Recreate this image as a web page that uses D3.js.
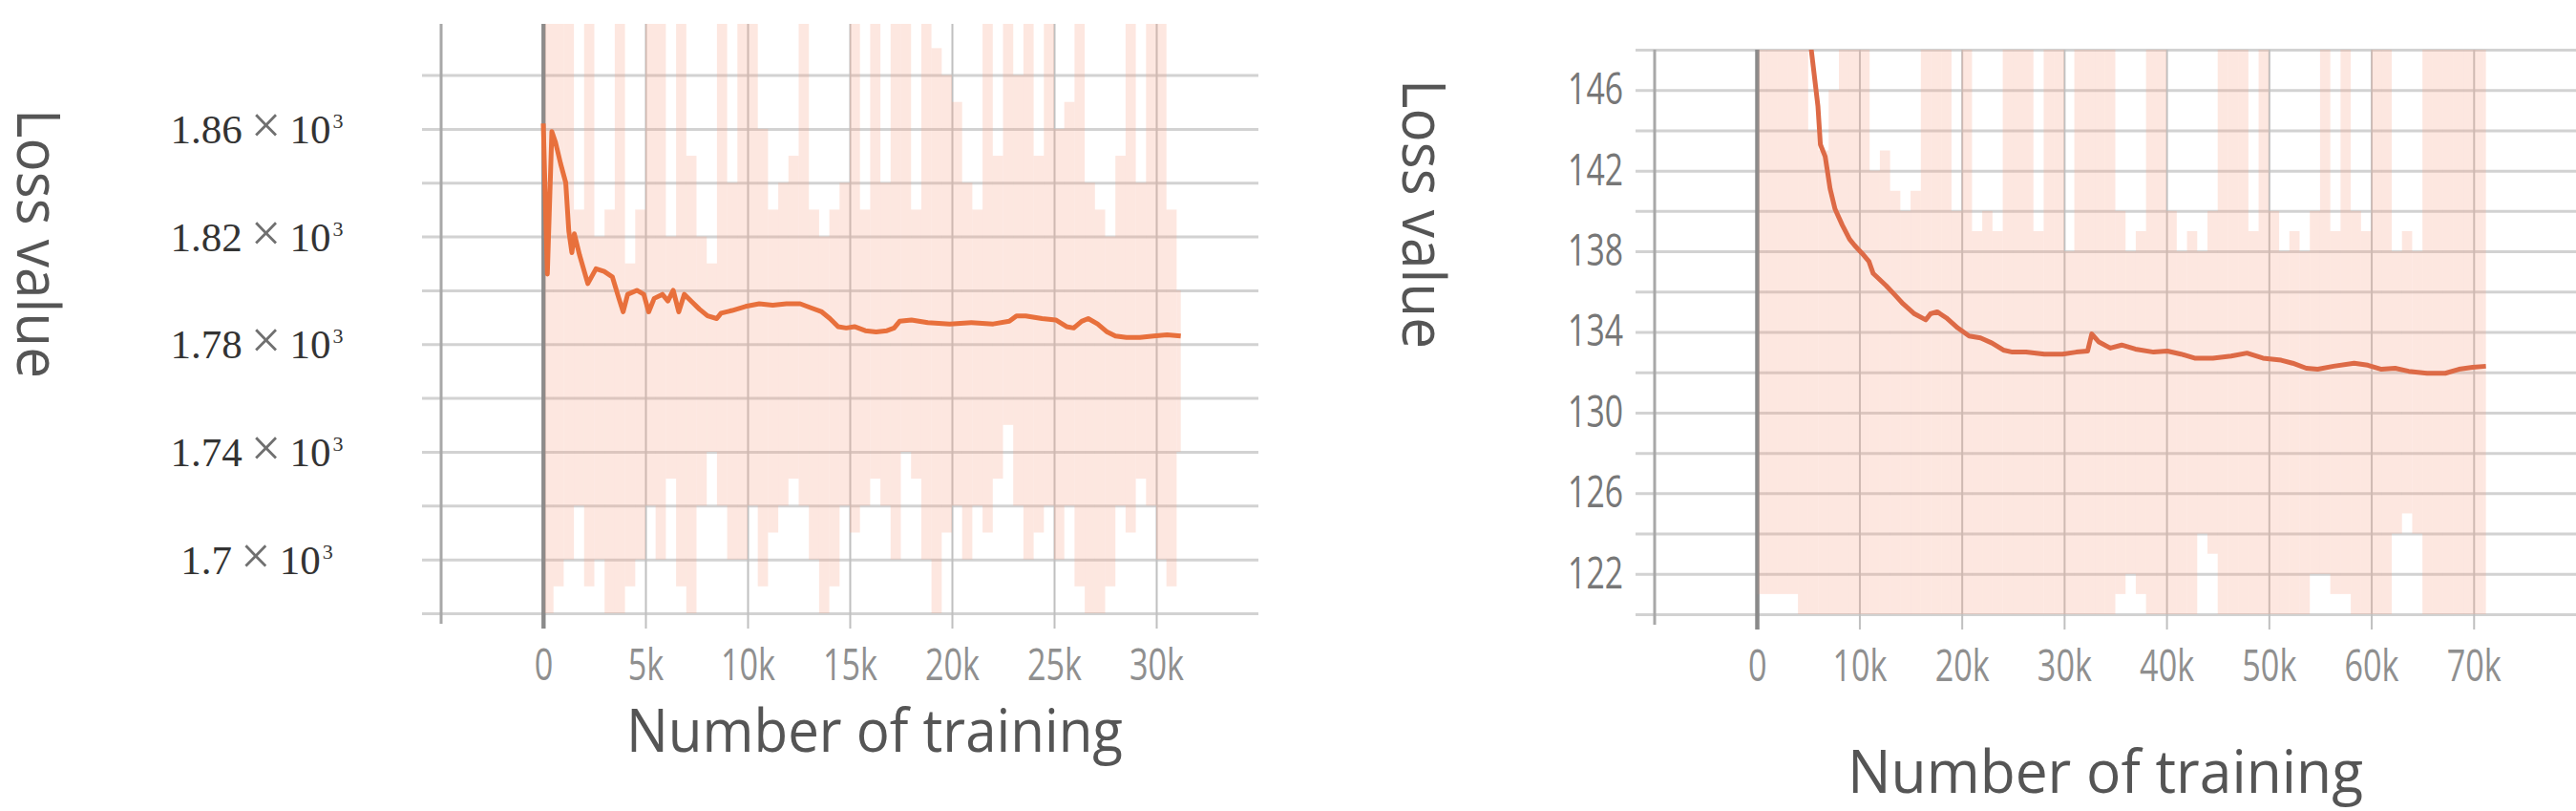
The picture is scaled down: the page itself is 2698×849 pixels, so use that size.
<!DOCTYPE html>
<html>
<head>
<meta charset="utf-8">
<script src="https://cdn.jsdelivr.net/npm/d3@7"></script>
<style>
  body { margin: 0; background: #fff; }
  svg { display: block; }
</style>
</head>
<body>
<div id="chart"></div>
<script>
// ---- Left run: smoothed loss (step, value) ----
var leftSteps = [0, 200, 420, 600, 850, 1100, 1250, 1400, 1520, 1780, 2180, 2580, 2980, 3380, 3700, 3910,
  4130, 4580, 4920, 5160, 5430, 5830, 6100, 6360, 6630, 6900, 7240, 7640, 8040, 8490, 8700, 9240,
  9900, 10570, 11230, 11900, 12570, 13100, 13630, 14030, 14430, 14830, 15230, 15760, 16290, 16820,
  17170, 17440, 18020, 18820, 19890, 20950, 22020, 22810, 23160, 23610, 24410, 25080, 25610, 25960,
  26350, 26670, 27130, 27600, 28000, 28540, 29200, 29870, 30530, 31200];
var leftLoss = [1862, 1806, 1859, 1855, 1847, 1840, 1822, 1814, 1821, 1813, 1802.5, 1808, 1807, 1805, 1797, 1792,
  1798.5, 1800, 1798.5, 1792, 1797, 1798.5, 1796, 1800, 1792, 1798.5, 1796, 1793, 1790.5, 1789.5, 1791.5, 1792.5,
  1794, 1795, 1794.5, 1795, 1795, 1793.5, 1792, 1789.5, 1786.5, 1786, 1786.5, 1785, 1784.5, 1785,
  1786, 1788.5, 1789, 1788, 1787.5, 1788, 1787.5, 1788.5, 1790.5, 1790.5, 1789.5, 1789, 1786.5, 1786,
  1788.5, 1789.5, 1787.5, 1784.5, 1783, 1782.5, 1782.5, 1783, 1783.5, 1783];

// raw (unsmoothed) loss envelope, one high/low pair per 500 steps
var leftBinSize = 500;
var leftRawHigh = [1910, 1910, 1910, 1830, 1910, 1820, 1830, 1910, 1810, 1830,
  1910, 1910, 1820, 1910, 1850, 1820, 1810, 1910, 1840, 1910,
  1910, 1860, 1830, 1840, 1850, 1910, 1830, 1820, 1830, 1840,
  1910, 1830, 1910, 1840, 1910, 1910, 1830, 1910, 1890, 1880,
  1870, 1840, 1830, 1910, 1850, 1910, 1880, 1910, 1850, 1910,
  1860, 1870, 1910, 1840, 1830, 1820, 1850, 1910, 1840, 1910,
  1910, 1830, 1800];
var leftRawLow = [1670, 1690, 1700, 1720, 1690, 1700, 1670, 1670, 1690, 1700,
  1720, 1700, 1730, 1690, 1670, 1720, 1740, 1720, 1700, 1700,
  1720, 1690, 1710, 1720, 1730, 1720, 1700, 1670, 1690, 1720,
  1710, 1720, 1730, 1720, 1700, 1740, 1730, 1700, 1670, 1710,
  1720, 1700, 1720, 1710, 1730, 1750, 1720, 1700, 1710, 1720,
  1700, 1720, 1690, 1670, 1670, 1690, 1720, 1710, 1730, 1720,
  1700, 1690, 1740];

var leftXTicks = [0, 5000, 10000, 15000, 20000, 25000, 30000];
var leftYGrid = [1680, 1700, 1720, 1740, 1760, 1780, 1800, 1820, 1840, 1860, 1880];
var leftYLabels = [1700, 1740, 1780, 1820, 1860];

// ---- Right run: smoothed loss (step, value) ----
var rightSteps = [0, 3000, 4300, 5300, 5950, 6190, 6660, 7140, 7620, 8330, 9040, 9520, 10260, 10930, 11350,
  12610, 13350, 14260, 15380, 16490, 16940, 17600, 18490, 19610, 20720, 21830, 22950, 24060, 24950,
  26280, 28060, 29840, 31180, 32290, 32700, 33400, 34510, 35620, 36960, 38740, 40080, 41420, 42750,
  44530, 46310, 47860, 49420, 51200, 52320, 53660, 54770, 56320, 58330, 59660, 61000, 62330, 63660,
  65450, 67230, 68560, 69900, 71200];
var rightLoss = [178, 158, 152, 148, 145.2, 143.3, 142.7, 141.1, 140.1, 139.3, 138.6, 138.3, 137.9, 137.5, 136.9,
  136.3, 135.9, 135.4, 134.9, 134.6, 134.9, 135.0, 134.7, 134.2, 133.8, 133.7, 133.45, 133.1, 133.0,
  133.0, 132.9, 132.9, 133.0, 133.05, 133.9, 133.5, 133.2, 133.35, 133.15, 133.0, 133.05, 132.9, 132.7,
  132.7, 132.8, 132.95, 132.7, 132.6, 132.45, 132.2, 132.15, 132.3, 132.45, 132.35, 132.15, 132.2, 132.05,
  131.95, 131.95, 132.15, 132.25, 132.3];

// raw envelope, one high/low pair per 1000 steps
var rightBinSize = 1000;
var rightRawHigh = [150, 150, 150, 150, 150, 144, 143, 146, 150, 150,
  150, 142, 143, 141, 140, 141, 150, 150, 150, 140,
  150, 139, 140, 139, 150, 150, 150, 139, 150, 150,
  138, 150, 150, 150, 150, 140, 138, 139, 150, 150,
  140, 138, 139, 138, 140, 150, 150, 150, 139, 150,
  140, 138, 139, 138, 140, 150, 139, 150, 140, 139,
  150, 150, 138, 139, 138, 150, 150, 150, 150, 150,
  150, 150];
var rightRawLow = [121, 121, 121, 121, 118, 118, 118, 118, 118, 118,
  118, 118, 118, 118, 118, 118, 118, 118, 118, 118,
  118, 118, 118, 118, 118, 118, 118, 119, 120, 120,
  120, 118, 118, 118, 118, 121, 122, 121, 118, 118,
  118, 118, 118, 124, 123, 118, 118, 118, 118, 118,
  118, 118, 118, 118, 122, 122, 121, 121, 118, 118,
  118, 118, 124, 125, 124, 118, 118, 118, 118, 118,
  118, 118];

var rightXTicks = [0, 10000, 20000, 30000, 40000, 50000, 60000, 70000];
var rightYGrid = [120, 122, 124, 126, 128, 130, 132, 134, 136, 138, 140, 142, 144, 146, 148];
var rightYLabels = [122, 126, 130, 134, 138, 142, 146];

// ---- Set up the page ----
var svgWidth = 2698;
var svgHeight = 849;

var svg = d3.select("#chart")
  .append("svg")
  .attr("width", svgWidth)
  .attr("height", svgHeight);

var tickFont = "'Open Sans', 'Noto Sans', sans-serif";

function drawPanel(p) {
  var x = d3.scaleLinear().domain(p.xDomain).range(p.xRange);
  var y = d3.scaleLinear().domain(p.yDomain).range(p.yRange);

  var left = p.xRange[0], right = p.xRange[1];
  var top = p.yRange[1], bottom = p.yRange[0];
  var lastStep = p.steps[p.steps.length - 1];

  var g = svg.append("g");

  g.append("clipPath")
    .attr("id", p.id + "-clip")
    .append("rect")
    .attr("x", left)
    .attr("y", top)
    .attr("width", right - left)
    .attr("height", bottom - top);

  // horizontal grid lines (stick out 20px to the left like ticks)
  var yGrid = g.append("g")
    .attr("transform", `translate(${left - 20},0)`)
    .call(d3.axisLeft(y).tickValues(p.yGrid).tickSize(-(right - left + 20)).tickFormat(""));
  yGrid.select(".domain").remove();
  yGrid.selectAll("line").attr("stroke", "#d2d2d2").attr("stroke-width", 3);

  // vertical grid lines + step labels
  var xAxis = g.append("g")
    .attr("transform", `translate(0,${bottom + 16})`)
    .call(d3.axisBottom(x)
      .tickValues(p.xTicks)
      .tickSize(-(bottom + 16 - top))
      .tickPadding(22)
      .tickFormat(d3.format("~s")));
  xAxis.select(".domain").remove();
  xAxis.selectAll("line")
    .attr("stroke", d => d === 0 ? "#8a8a8a" : "#c0c0c0")
    .attr("stroke-width", d => d === 0 ? 4 : 2);
  xAxis.selectAll("text")
    .attr("transform", "scale(0.76,1)")
    .style("font-family", tickFont)
    .style("font-size", "45px")
    .attr("fill", "#8f8f8f");

  // raw loss shown as pale stripes
  var bins = p.rawHigh.map(function(h, i) {
    return {x0: i * p.binSize, x1: Math.min((i + 1) * p.binSize, lastStep), hi: h, lo: p.rawLow[i]};
  });

  g.append("g")
    .attr("clip-path", `url(#${p.id}-clip)`)
    .selectAll("rect")
    .data(bins)
    .enter()
    .append("rect")
    .attr("x", d => x(d.x0))
    .attr("width", d => Math.max(0, x(d.x1) - x(d.x0)))
    .attr("y", d => y(d.hi))
    .attr("height", d => y(d.lo) - y(d.hi))
    .attr("fill", "#f7a78c")
    .attr("fill-opacity", 0.27);

  // zero line again on top of the stripes
  g.append("line")
    .attr("x1", x(0)).attr("x2", x(0))
    .attr("y1", top).attr("y2", bottom + 16)
    .attr("stroke", "#8a8a8a")
    .attr("stroke-opacity", 0.8)
    .attr("stroke-width", 4);

  // left edge line
  g.append("line")
    .attr("x1", left).attr("x2", left)
    .attr("y1", top).attr("y2", bottom + 11)
    .attr("stroke", "#a8a8a8")
    .attr("stroke-width", 3);

  // smoothed loss
  var lineData = p.steps.map((s, i) => [s, p.loss[i]]);
  var line = d3.line()
    .x(d => x(d[0]))
    .y(d => y(d[1]));

  g.append("path")
    .datum(lineData)
    .attr("clip-path", `url(#${p.id}-clip)`)
    .attr("d", line)
    .attr("fill", "none")
    .attr("stroke", p.lineColor)
    .attr("stroke-width", 5)
    .attr("stroke-linejoin", "round");

  // axis titles
  g.append("text")
    .attr("x", p.xTitle[0])
    .attr("y", p.xTitle[1])
    .attr("text-anchor", "middle")
    .attr("textLength", p.xTitle[2])
    .attr("lengthAdjust", "spacingAndGlyphs")
    .style("font-family", tickFont)
    .style("font-size", "62px")
    .attr("fill", "#555")
    .text("Number of training");

  g.append("text")
    .attr("transform", `translate(${p.yTitle[0]},${p.yTitle[1]}) rotate(90)`)
    .attr("text-anchor", "middle")
    .attr("textLength", 282)
    .attr("lengthAdjust", "spacingAndGlyphs")
    .style("font-family", tickFont)
    .style("font-size", "62px")
    .attr("fill", "#555")
    .text("Loss value");

  return {x: x, y: y, g: g};
}

// ---- Left chart ----
var leftPanel = drawPanel({
  id: "left",
  xDomain: [-5000, 35000], xRange: [462, 1318],
  yDomain: [1680, 1899], yRange: [642, 25],
  steps: leftSteps, loss: leftLoss,
  binSize: leftBinSize, rawHigh: leftRawHigh, rawLow: leftRawLow,
  xTicks: leftXTicks, yGrid: leftYGrid,
  lineColor: "#e8703c",
  xTitle: [916, 787, 520], yTitle: [18, 255]
});

// scientific-notation labels, e.g. 1.86×10³
var leftLabels = leftPanel.g.selectAll(".ylab")
  .data(leftYLabels)
  .enter()
  .append("text")
  .attr("class", "ylab")
  .attr("x", 269)
  .attr("y", d => leftPanel.y(d) + 15)
  .attr("text-anchor", "middle")
  .style("font-family", "'Liberation Serif', 'DejaVu Serif', serif")
  .style("font-size", "43px")
  .attr("fill", "#333");

leftLabels.append("tspan").text(d => d3.format("~g")(d / 1000));
leftLabels.append("tspan").attr("dx", 9).style("font-size", "56px").attr("fill", "#707070").text("×");
leftLabels.append("tspan").attr("dx", 9).text("10");
leftLabels.append("tspan").attr("dx", 2).attr("dy", -16).style("font-size", "22px").text("3");

// ---- Right chart ----
var rightPanel = drawPanel({
  id: "right",
  xDomain: [-10000, 80000], xRange: [1733, 2698],
  yDomain: [120, 148], yRange: [643, 52],
  steps: rightSteps, loss: rightLoss,
  binSize: rightBinSize, rawHigh: rightRawHigh, rawLow: rightRawLow,
  xTicks: rightXTicks, yGrid: rightYGrid,
  lineColor: "#dd6a46",
  xTitle: [2205, 830, 540], yTitle: [1469, 224]
});

var rightYAxis = rightPanel.g.append("g")
  .attr("transform", "translate(1717,0)")
  .call(d3.axisLeft(rightPanel.y).tickValues(rightYLabels).tickSize(0).tickPadding(17));
rightYAxis.select(".domain").remove();
rightYAxis.selectAll("text")
  .attr("transform", "scale(0.75,1)")
  .attr("x", -17 / 0.75)
  .style("font-family", tickFont)
  .style("font-size", "45px")
  .attr("fill", "#777");
</script>
</body>
</html>
